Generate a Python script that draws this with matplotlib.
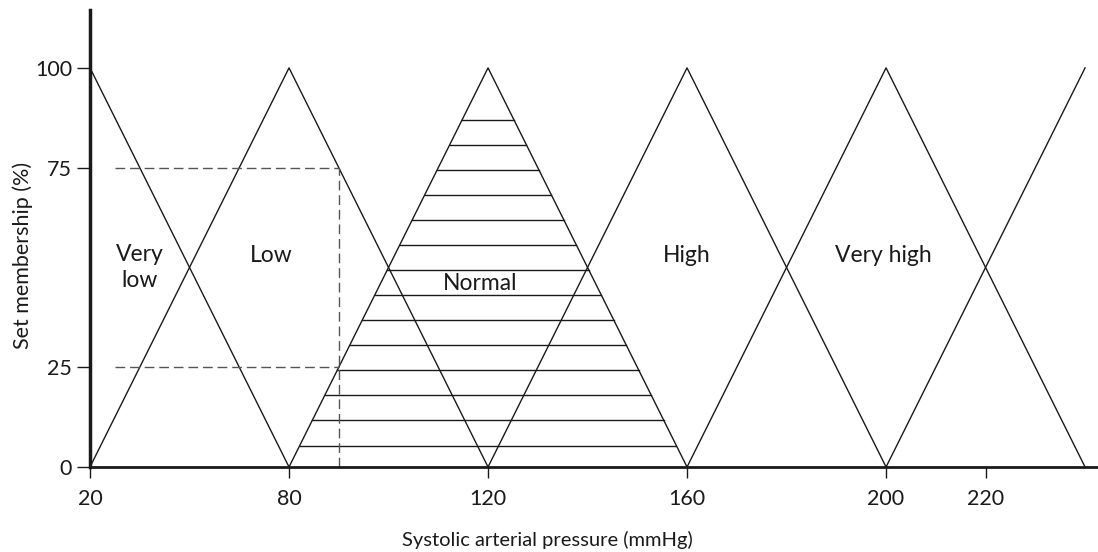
"""
Fuzzy membership sets for systolic arterial pressure.
Saves out.png (1098x552).
"""

import numpy as np
import matplotlib.pyplot as plt

plt.rcParams["font.family"] = ["Lato", "DejaVu Sans"]

# --------------------------------------------------------------------
# Data (pressure in mmHg, membership in %)
# --------------------------------------------------------------------
set_names = ["Very low", "Low", "Normal", "High", "Very high", "Above"]
set_x = [
    [20, 80],
    [20, 80, 120],
    [80, 120, 160],
    [120, 160, 200],
    [160, 200, 240],
    [200, 240],
]
set_y = [
    [100, 0],
    [0, 100, 0],
    [0, 100, 0],
    [0, 100, 0],
    [0, 100, 0],
    [0, 100],
]

# hatch levels inside the "Normal" set
hatch_levels = [5.3, 11.8, 18.0, 24.3, 30.6, 36.8, 43.1, 49.4,
                55.6, 61.9, 68.2, 74.4, 80.7, 87.0]

# example reading: 90 mmHg -> 25 % normal, 75 % low
reading_x = 90
reading_levels = [75, 25]
dash_start = 27.5

x_ticks = [20, 80, 120, 160, 200, 220]
y_ticks = [0, 25, 75, 100]

label_text = ["Very\nlow", "Low", "Normal", "High", "Very high"]
label_x = [35, 74.5, 118.5, 160, 199.5]
label_y = [50, 53, 46, 53, 53]


# --------------------------------------------------------------------
# Axis scale: 20-80 mmHg is compressed (60 mmHg drawn as 40)
# --------------------------------------------------------------------
def _fwd(x):
    x = np.asarray(x, dtype=float)
    return np.where(x < 80, 80 - (80 - x) * 2.0 / 3.0, x)


def _inv(u):
    u = np.asarray(u, dtype=float)
    return np.where(u < 80, 80 - (80 - u) * 1.5, u)


def main():
    fig = plt.figure(figsize=(10.98, 5.52), dpi=100)
    ax = fig.add_axes([90 / 1098, 85 / 552, 1008 / 1098, 457 / 552])
    ax.set_xscale("function", functions=(_fwd, _inv))

    line_kw = dict(color="#1a1a1a", lw=1.0)
    for xs, ys in zip(set_x, set_y):
        ax.plot(xs, ys, **line_kw)

    # horizontal hatching of the Normal set
    left0, peak, right0 = set_x[2]
    for lv in hatch_levels:
        f = lv / 100.0
        xl = left0 + (peak - left0) * f
        xr = right0 - (right0 - peak) * f
        ax.plot([xl, xr], [lv, lv], **line_kw)

    # dashed guide lines for the example reading
    dash_kw = dict(color="#555555", lw=1.0, dashes=(7, 3.5))
    for lv in reading_levels:
        ax.plot([dash_start, reading_x], [lv, lv], **dash_kw)
    ax.plot([reading_x, reading_x], [0, max(reading_levels)], **dash_kw)

    for txt, tx, ty in zip(label_text, label_x, label_y):
        ax.text(tx, ty, txt, ha="center", va="center", fontsize=16.5,
                color="#1a1a1a", linespacing=1.3)

    ax.set_xlim(20, 242.6)
    ax.set_ylim(0, 114.5)
    ax.set_xticks(x_ticks)
    ax.set_xticklabels([str(t) for t in x_ticks])
    ax.set_yticks(y_ticks)
    ax.set_yticklabels([str(t) for t in y_ticks])
    ax.minorticks_off()

    for side in ("top", "right"):
        ax.spines[side].set_visible(False)
    ax.spines["left"].set_linewidth(2.5)
    ax.spines["bottom"].set_linewidth(2.0)
    ax.spines["left"].set_color("#1a1a1a")
    ax.spines["bottom"].set_color("#1a1a1a")

    ax.tick_params(axis="y", length=9.5, width=1.0, pad=3.5,
                   labelsize=15.5, colors="#1a1a1a")
    ax.tick_params(axis="x", length=8, width=1.0, pad=8,
                   labelsize=15.5, colors="#1a1a1a")

    ax.set_xlabel("Systolic arterial pressure (mmHg)", fontsize=14.5,
                  color="#1a1a1a", va="center")
    ax.xaxis.set_label_coords(0.454, -0.160)
    ax.set_ylabel("Set membership (%)", fontsize=15.5, color="#1a1a1a",
                  va="center")
    ax.yaxis.set_label_coords(-0.067, 0.464)

    fig.savefig("out.png", dpi=100)
    plt.close(fig)


if __name__ == "__main__":
    main()
